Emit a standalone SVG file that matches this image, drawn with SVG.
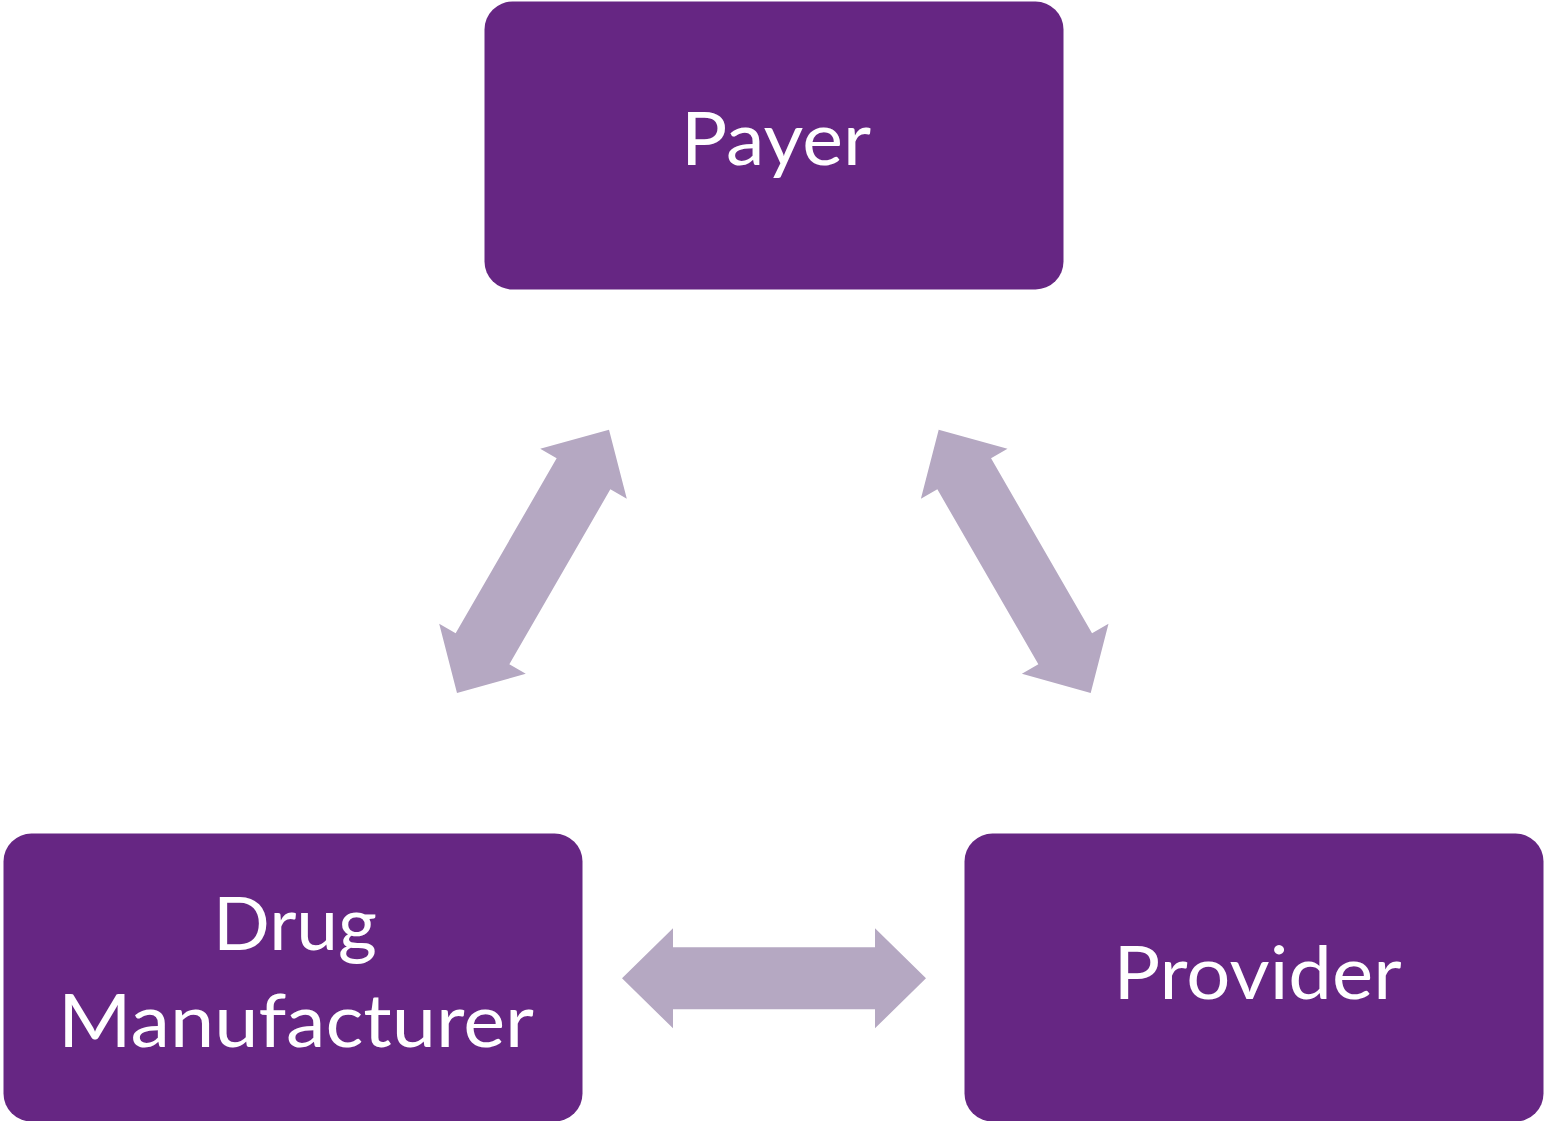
<svg xmlns="http://www.w3.org/2000/svg" width="1544" height="1121" viewBox="0 0 1544 1121">
  <style>
    .box { fill: #662683; }
    .label { fill: #ffffff; font-family: Lato, "Open Sans", "Liberation Sans", sans-serif; font-size: 74px; text-anchor: middle; }
    .link { fill: #B5A8C2; }
  </style>
  <defs>
    <!-- double-headed block arrow, centred on the origin, pointing along x -->
    <path id="dbl-arrow" d="M -152,0 L -101,-50 L -101,-31 L 101,-31 L 101,-50 L 152,0 L 101,50 L 101,31 L -101,31 L -101,50 Z"/>
  </defs>

  <g id="connectors" class="link">
    <use href="#dbl-arrow" transform="translate(533 561.3) rotate(-60)"/>
    <use href="#dbl-arrow" transform="translate(1014.7 561.3) rotate(60)"/>
    <use href="#dbl-arrow" transform="translate(774 978.3)"/>
  </g>

  <g id="payer">
    <rect class="box" x="484.5" y="1.5" width="579" height="288" rx="28" ry="28"/>
    <text class="label" x="776" y="165" textLength="190" lengthAdjust="spacingAndGlyphs">Payer</text>
  </g>

  <g id="drug-manufacturer">
    <rect class="box" x="3.5" y="833.5" width="579" height="288" rx="28" ry="28"/>
    <text class="label" x="295" y="950" textLength="164" lengthAdjust="spacingAndGlyphs">Drug</text>
    <text class="label" x="296" y="1047" textLength="476" lengthAdjust="spacingAndGlyphs">Manufacturer</text>
  </g>

  <g id="provider">
    <rect class="box" x="964.5" y="833.5" width="579" height="288" rx="28" ry="28"/>
    <text class="label" x="1257.5" y="999" textLength="288" lengthAdjust="spacingAndGlyphs">Provider</text>
  </g>
</svg>
